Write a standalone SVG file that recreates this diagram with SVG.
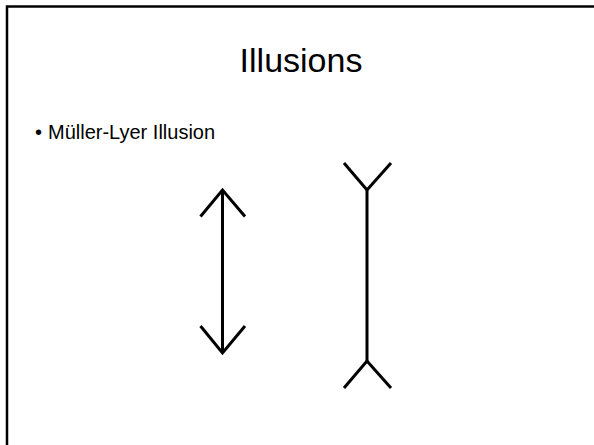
<svg xmlns="http://www.w3.org/2000/svg" width="594" height="445" viewBox="0 0 594 445">
<style>
.t{font-family:"Liberation Sans",Arial,sans-serif;fill:#000}
.ln{fill:none;stroke:#000;stroke-width:3;stroke-linecap:butt;stroke-linejoin:miter}
</style>
<rect x="0" y="0" width="594" height="445" fill="#fff"/>
<g id="frame">
<path d="M7,445 V6.5 H594" fill="none" stroke="#000" stroke-width="2.5"/>
</g>
<g id="title"><text class="t" x="301" y="72" font-size="34" text-anchor="middle">Illusions</text></g>
<g id="bullet">
<text class="t" x="35" y="139" font-size="20">•</text>
<text class="t" x="48" y="139" font-size="20">Müller-Lyer Illusion</text>
</g>
<g id="connectors">
<g id="arrow-left">
<path class="ln" d="M222.5,190 V353"/>
<path class="ln" d="M200.5,216.5 L222.5,190 L245,216.5"/>
<path class="ln" d="M200.5,326 L222.5,353 L245,326"/>
</g>
<g id="arrow-right">
<path class="ln" d="M367,190 V361"/>
<path class="ln" d="M344,163 L367,190 L391,163"/>
<path class="ln" d="M344,388 L367,361 L391,388"/>
</g>
</g>
</svg>
